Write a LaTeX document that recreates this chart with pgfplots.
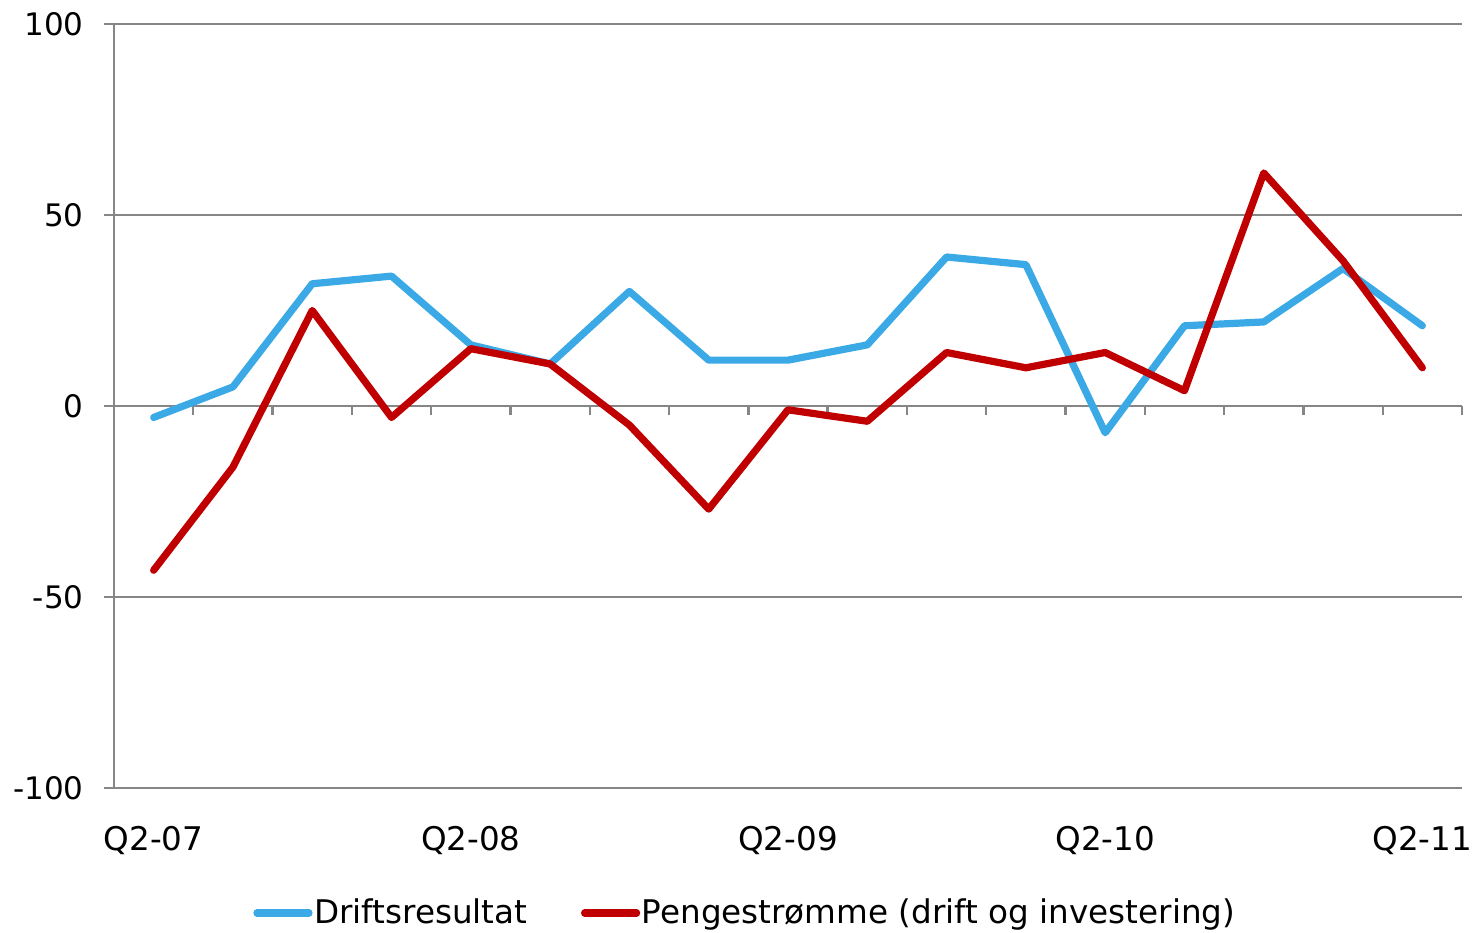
\documentclass[border=0pt]{standalone}
\usepackage{fontspec}
\setmainfont{DejaVu Sans}
\usepackage{pgfplots}
\usepackage{pgfplotstable}
\pgfplotsset{compat=1.18}
\definecolor{axgray}{HTML}{868686}
\definecolor{skyb}{HTML}{3BA9E6}
\definecolor{darkr}{HTML}{C00000}
\pgfplotstableread{
x drift penge
0 -3 -43
1 5 -16
2 32 25
3 34 -3
4 16 15
5 11 11
6 30 -5
7 12 -27
8 12 -1
9 16 -4
10 39 14
11 37 10
12 -7 14
13 21 4
14 22 61
15 36 38
16 21 10
}\datatable
\begin{document}
\fontsize{15}{18}\selectfont
\begin{tikzpicture}
\begin{axis}[
  scale only axis, width=674pt, height=382pt,
  xmin=-0.5, xmax=16.5, ymin=-100, ymax=100,
  axis x line=middle, axis y line=none,
  axis line style={-, draw=axgray, line width=1.2pt},
  xtick={-0.5,0.5,...,16.5}, xticklabels={},
  tick align=outside, major tick length=4.5pt,
  tick style={draw=axgray, line width=1.2pt},
]
\addplot[draw=none] coordinates {(0,0)};
\end{axis}
\begin{axis}[
  name=main,
  scale only axis, width=674pt, height=382pt,
  xmin=-0.5, xmax=16.5, ymin=-100, ymax=100,
  axis x line*=bottom, axis y line*=left,
  axis line style={-, draw=axgray, line width=1.2pt},
  xtick={0,4,8,12,16},
  xticklabels={Q2-07,Q2-08,Q2-09,Q2-10,Q2-11},
  ytick={-100,-50,0,50,100},
  ymajorgrids, grid style={draw=axgray, line width=1.2pt},
  tick align=outside, major tick length=5pt,
  ytick style={draw=axgray, line width=1.2pt},
  xtick style={draw=none},
  /pgf/number format/assume math mode=true,
  yticklabel style={font=\fontsize{15.5}{18}\selectfont, xshift=-5pt},
  xticklabel style={font=\fontsize{16.3}{19}\selectfont, yshift=-9pt},
  legend style={at={(0.1031,-0.1636)}, anchor=west, draw=none, fill=none,
    legend columns=2, inner sep=0pt, font=\fontsize{16.3}{19}\selectfont,
    /tikz/every even column/.append style={column sep=26pt},
    nodes={inner sep=0.8pt}},
  legend image code/.code={\draw[#1] (0pt,0pt) -- (26pt,0pt);},
]
\addplot[skyb, line width=3.6pt, line cap=round, line join=round] table[x=x, y=drift] {\datatable};
\addlegendentry{Driftsresultat}
\addplot[darkr, line width=3.6pt, line cap=round, line join=round] table[x=x, y=penge] {\datatable};
\addlegendentry{Pengestrømme (drift og investering)}
\end{axis}
\pgfresetboundingbox
\path[use as bounding box] ([shift={(-57pt,-72.5pt)}]main.south west) rectangle ([shift={(7pt,12pt)}]main.north east);
\end{tikzpicture}
\end{document}
